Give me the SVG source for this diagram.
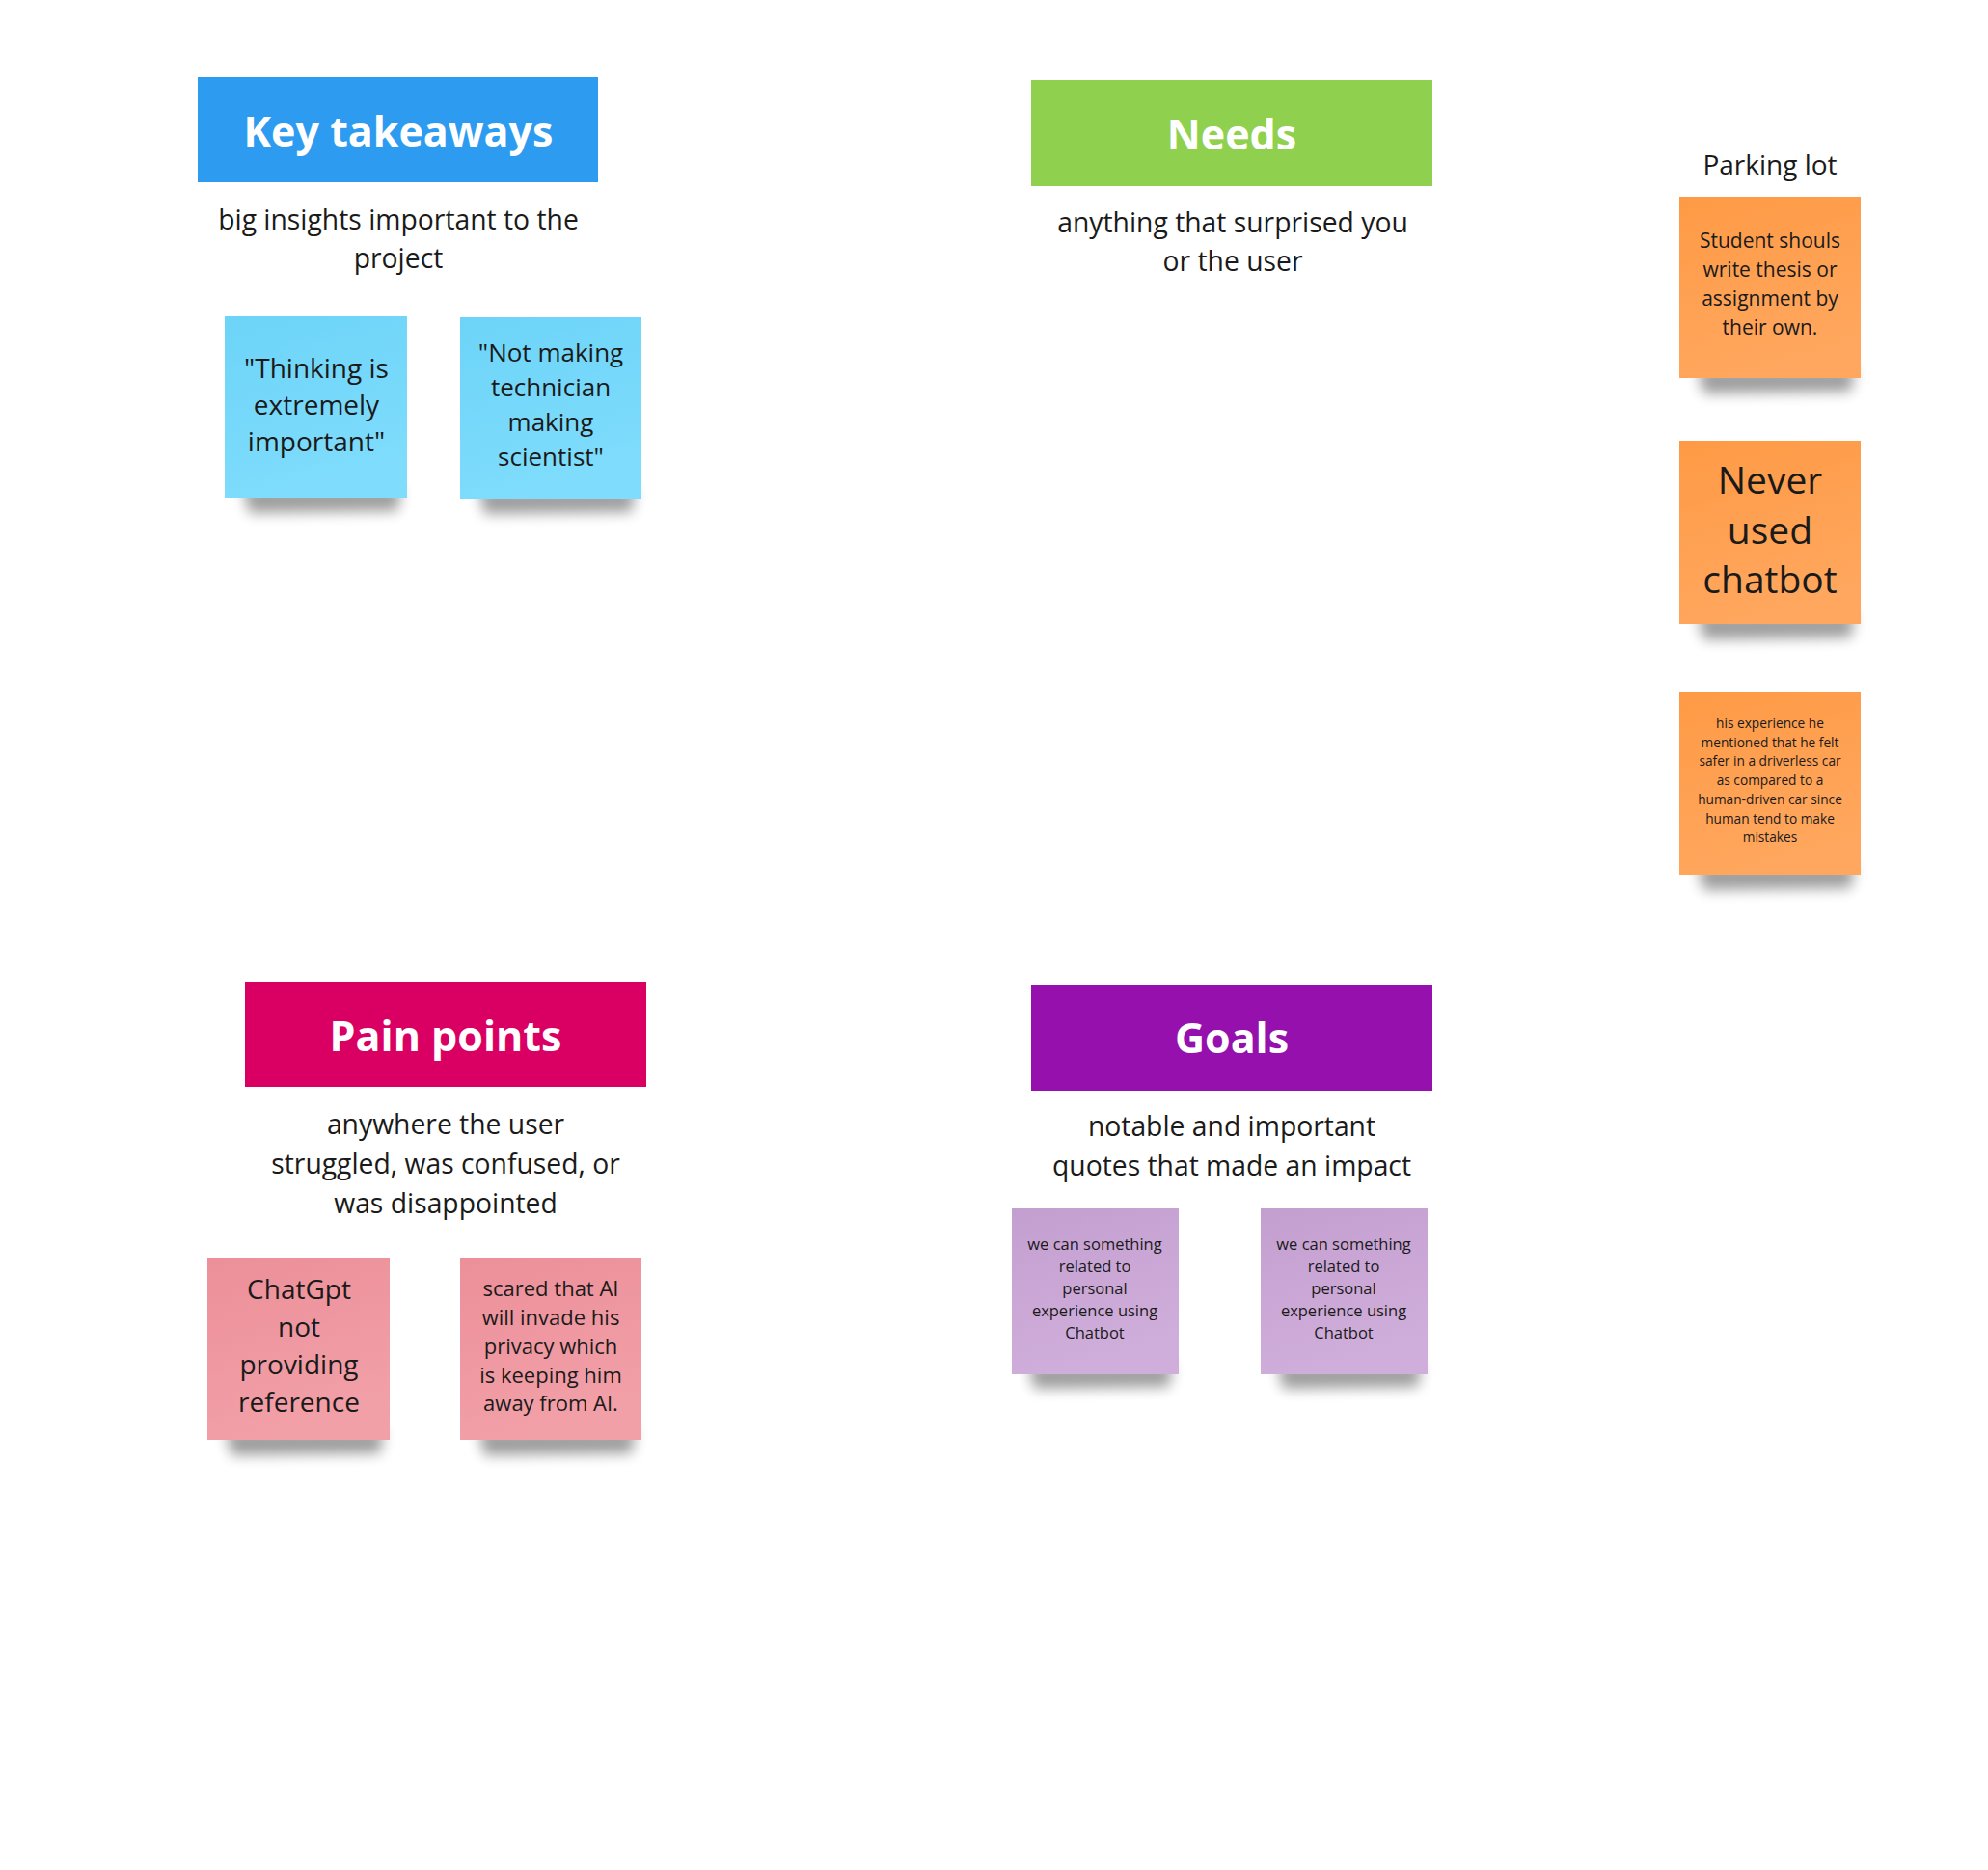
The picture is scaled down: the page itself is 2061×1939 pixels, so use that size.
<svg xmlns="http://www.w3.org/2000/svg" width="2061" height="1939" viewBox="0 0 2061 1939">
<style>
.hdr{font-family:"Open Sans","Liberation Sans",sans-serif;font-weight:700;fill:#ffffff;text-anchor:middle}
.sub{font-family:"Open Sans","Liberation Sans",sans-serif;font-size:28.3px;fill:#1a1a1a;text-anchor:middle}
.st{font-family:"Open Sans","Liberation Sans",sans-serif;fill:#1a1a1a;text-anchor:middle}
.shadow{fill:#000;opacity:0.38;filter:url(#blur)}
</style>
<defs>
<filter id="blur" x="-20%" y="-100%" width="140%" height="300%"><feGaussianBlur stdDeviation="7"/></filter>
<linearGradient id="gBlue" x1="0" y1="0" x2="0.3" y2="1"><stop offset="0" stop-color="#6cd4f8"/><stop offset="1" stop-color="#7fdcfc"/></linearGradient>
<linearGradient id="gOrange" x1="0" y1="0" x2="0.3" y2="1"><stop offset="0" stop-color="#fe9a45"/><stop offset="1" stop-color="#ffa75e"/></linearGradient>
<linearGradient id="gPink" x1="0" y1="0" x2="0.3" y2="1"><stop offset="0" stop-color="#ec8f99"/><stop offset="1" stop-color="#f2a0a8"/></linearGradient>
<linearGradient id="gPurple" x1="0" y1="0" x2="0.3" y2="1"><stop offset="0" stop-color="#c39fcf"/><stop offset="1" stop-color="#d0aedb"/></linearGradient>
</defs>
<rect x="0" y="0" width="2061" height="1939" fill="#ffffff"/>

<g id="key-takeaways">
<rect x="205" y="80" width="415" height="109" fill="#2d9bf0"/>
<text class="hdr" x="413" y="152" font-size="43">Key takeaways</text>
<text class="sub" x="413" y="238">big insights important to the</text>
<text class="sub" x="413" y="278">project</text>
</g>
<g id="key-note-1">
<path class="shadow" d="M252,506 L416,506 L412,530 L258,532 Z"/>
<rect x="233" y="328" width="189" height="188" fill="url(#gBlue)"/>
<text class="st" font-size="28"><tspan x="328" y="392">"Thinking is</tspan><tspan x="328" y="430">extremely</tspan><tspan x="328" y="468">important"</tspan></text>
</g>
<g id="key-note-2">
<path class="shadow" d="M496,507 L659,507 L655,531 L502,533 Z"/>
<rect x="477" y="329" width="188" height="188" fill="url(#gBlue)"/>
<text class="st" font-size="26"><tspan x="571" y="375">"Not making</tspan><tspan x="571" y="411">technician</tspan><tspan x="571" y="447">making</tspan><tspan x="571" y="483">scientist"</tspan></text>
</g>

<g id="needs">
<rect x="1069" y="83" width="416" height="110" fill="#8fd14f"/>
<text class="hdr" x="1277" y="155" font-size="43">Needs</text>
<text class="sub" x="1278" y="241">anything that surprised you</text>
<text class="sub" x="1278" y="281">or the user</text>
</g>

<g id="parking-lot">
<text class="st" x="1835" y="181" font-size="28">Parking lot</text>
</g>
<g id="parking-note-1">
<path class="shadow" d="M1760,382 L1923,382 L1919,406 L1766,408 Z"/>
<rect x="1741" y="204" width="188" height="188" fill="url(#gOrange)"/>
<text class="st" font-size="21"><tspan x="1835" y="257">Student shouls</tspan><tspan x="1835" y="287">write thesis or</tspan><tspan x="1835" y="317">assignment by</tspan><tspan x="1835" y="347">their own.</tspan></text>
</g>
<g id="parking-note-2">
<path class="shadow" d="M1760,637 L1923,637 L1919,661 L1766,663 Z"/>
<rect x="1741" y="457" width="188" height="190" fill="url(#gOrange)"/>
<text class="st" font-size="39"><tspan x="1835" y="512">Never</tspan><tspan x="1835" y="564">used</tspan><tspan x="1835" y="615">chatbot</tspan></text>
</g>
<g id="parking-note-3">
<path class="shadow" d="M1760,897 L1923,897 L1919,921 L1766,923 Z"/>
<rect x="1741" y="718" width="188" height="189" fill="url(#gOrange)"/>
<text class="st" font-size="13.7"><tspan x="1835" y="755">his experience he</tspan><tspan x="1835" y="774.7">mentioned that he felt</tspan><tspan x="1835" y="794.4">safer in a driverless car</tspan><tspan x="1835" y="814.1">as compared to a</tspan><tspan x="1835" y="833.8">human-driven car since</tspan><tspan x="1835" y="853.5">human tend to make</tspan><tspan x="1835" y="873.2">mistakes</tspan></text>
</g>

<g id="pain-points">
<rect x="254" y="1018" width="416" height="109" fill="#da0063"/>
<text class="hdr" x="462" y="1090" font-size="43">Pain points</text>
<text class="sub" x="462" y="1176">anywhere the user</text>
<text class="sub" x="462" y="1217">struggled, was confused, or</text>
<text class="sub" x="462" y="1258">was disappointed</text>
</g>
<g id="pain-note-1">
<path class="shadow" d="M234,1483 L398,1483 L394,1507 L240,1509 Z"/>
<rect x="215" y="1304" width="189" height="189" fill="url(#gPink)"/>
<text class="st" font-size="28"><tspan x="310" y="1347">ChatGpt</tspan><tspan x="310" y="1386">not</tspan><tspan x="310" y="1425">providing</tspan><tspan x="310" y="1464">reference</tspan></text>
</g>
<g id="pain-note-2">
<path class="shadow" d="M496,1483 L659,1483 L655,1507 L502,1509 Z"/>
<rect x="477" y="1304" width="188" height="189" fill="url(#gPink)"/>
<text class="st" font-size="22"><tspan x="571" y="1344">scared that AI</tspan><tspan x="571" y="1374">will invade his</tspan><tspan x="571" y="1404">privacy which</tspan><tspan x="571" y="1434">is keeping him</tspan><tspan x="571" y="1463">away from AI.</tspan></text>
</g>

<g id="goals">
<rect x="1069" y="1021" width="416" height="110" fill="#9510ac"/>
<text class="hdr" x="1277" y="1092" font-size="43">Goals</text>
<text class="sub" x="1277" y="1178">notable and important</text>
<text class="sub" x="1277" y="1219">quotes that made an impact</text>
</g>
<g id="goals-note-1">
<path class="shadow" d="M1066,1415 L1216,1415 L1212,1438 L1072,1440 Z"/>
<rect x="1049" y="1253" width="173" height="172" fill="url(#gPurple)"/>
<text class="st" font-size="16.5"><tspan x="1135" y="1296">we can something</tspan><tspan x="1135" y="1319">related to</tspan><tspan x="1135" y="1342">personal</tspan><tspan x="1135" y="1365">experience using</tspan><tspan x="1135" y="1388">Chatbot</tspan></text>
</g>
<g id="goals-note-2">
<path class="shadow" d="M1324,1415 L1474,1415 L1470,1438 L1330,1440 Z"/>
<rect x="1307" y="1253" width="173" height="172" fill="url(#gPurple)"/>
<text class="st" font-size="16.5"><tspan x="1393" y="1296">we can something</tspan><tspan x="1393" y="1319">related to</tspan><tspan x="1393" y="1342">personal</tspan><tspan x="1393" y="1365">experience using</tspan><tspan x="1393" y="1388">Chatbot</tspan></text>
</g>

<g id="connectors"></g>
</svg>
